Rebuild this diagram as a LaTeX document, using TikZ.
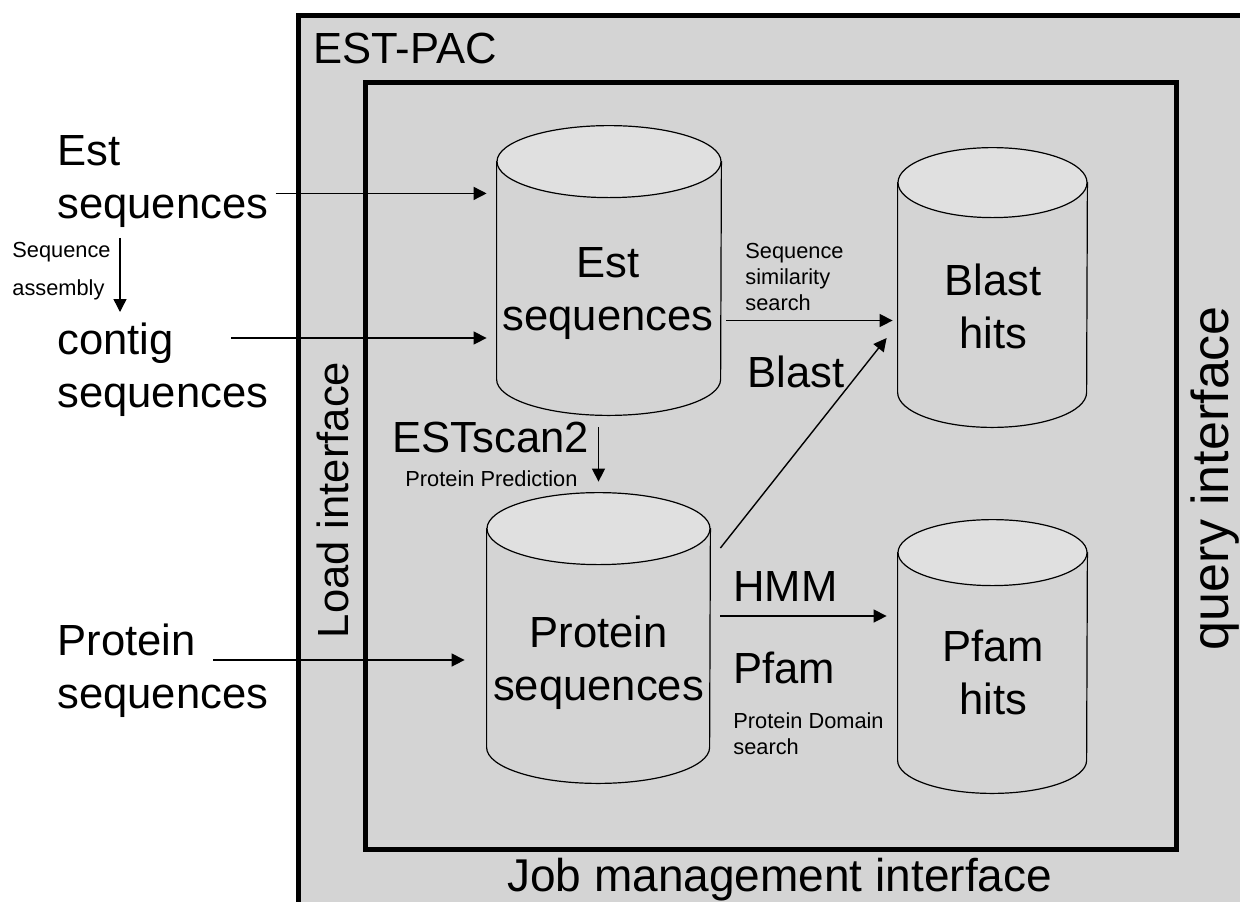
\documentclass[tikz,border=0pt]{standalone}
\usepackage{fontspec}
\setmainfont{Liberation Sans}
\usetikzlibrary{arrows.meta,calc}

\definecolor{boxgray}{RGB}{212,212,212}
\definecolor{capgray}{RGB}{224,224,224}

\tikzset{
  big/.style={font=\fontsize{21.8}{26.5}\selectfont, inner sep=0pt, align=left},
  small/.style={font=\fontsize{10.9}{13}\selectfont, inner sep=0pt, align=left},
  db/.style={rectangle, inner sep=0pt},
  flow/.style={-{Triangle[length=6.5pt,width=6.5pt]}, line width=0.7pt},
  frame/.style={draw, line width=2.5pt, fill=boxgray},
}

% cylinder drawn into a db node: name, x radius, y radius
\newcommand{\dbshape}[3]{%
  \draw[line width=0.6pt, fill=boxgray]
    ([shift={(0,#3)}]#1.north west) -- ([shift={(0,-#3)}]#1.south west)
    arc[start angle=180, end angle=0, x radius=#2, y radius=#3]
    -- ([shift={(0,#3)}]#1.north east) -- cycle;
  \draw[line width=0.6pt, fill=capgray] ([shift={(0,#3)}]#1.north) ellipse[x radius=#2, y radius=#3];
}

\begin{document}
\begin{tikzpicture}[x=0.5pt,y=-0.5pt]
  \clip (0,0) rectangle (1240,901);
  \fill[white] (0,0) rectangle (1240,901);
  % outer and inner frames
  \draw[frame] (298.5,15) rectangle (1280,940);
  \draw[frame] (365.5,82.5) rectangle (1176,849);

  % databases
  \node[db, minimum width=112pt, minimum height=144.5pt] (estdb) at (609,270.5) {};
  \node[db, minimum width=111.5pt, minimum height=145pt] (protdb) at (598.5,638) {};
  \node[db, minimum width=94.5pt, minimum height=139.5pt] (blastdb) at (992.5,287.5) {};
  \node[db, minimum width=94.5pt, minimum height=136.5pt] (pfamdb) at (992.5,656.5) {};
  \dbshape{estdb}{112}{36}
  \dbshape{protdb}{111.5}{36}
  \dbshape{blastdb}{94.5}{35}
  \dbshape{pfamdb}{94.5}{33}

  \node[big, align=center, anchor=north] (esttxt) at (608,247) {Est\\sequences};
  \node[big, align=center, anchor=north] (prottxt) at (598.5,615) {Protein\\sequences};
  \node[big, align=center, anchor=north] (blasttxt) at (993,263) {Blast\\hits};
  \node[big, align=center, anchor=north] (pfamtxt) at (993,630) {Pfam\\hits};

  % inputs on the left
  \node[big, anchor=north west] (estin) at (57,135) {Est\\sequences};
  \node[big, anchor=north west] (contigin) at (57,322) {contig\\sequences};
  \node[big, anchor=north west] (protin) at (57,623) {Protein\\sequences};
  \node[small, anchor=north west] (asmlbl) at (12,242) {Sequence\\[6pt]assembly};

  % interfaces
  \node[big, anchor=north west] (pac) at (313,33) {EST-PAC};
  \node[big, rotate=90] (loadif) at (333,500) {Load interface};
  \node[big, rotate=90, font=\fontsize{26}{30}\selectfont] (queryif) at (1215,478) {query interface};
  \node[big, anchor=north west, font=\fontsize{23}{27}\selectfont] (jobif) at (507,858) {Job management interface};

  % tool labels
  \node[big, anchor=north west] (estscan) at (392,422) {ESTscan2};
  \node[small, anchor=north west] (protpred) at (405,470) {Protein Prediction};
  \node[small, anchor=north west] (simlbl) at (745,243) {Sequence\\similarity\\search};
  \node[big, anchor=north west] (blastlbl) at (747,355) {Blast};
  \node[big, anchor=north west] (hmmlbl) at (733,571) {HMM};
  \node[big, anchor=north west] (pfamlbl) at (733,652) {Pfam};
  \node[small, anchor=north west] (domlbl) at (733,712) {Protein Domain\\search};

  % arrow starts
  \coordinate (estout) at ([shift={(7,12)}]estin.east);
  \coordinate (contigout) at ([shift={(174,16)}]contigin.north west);
  \coordinate (protout) at ([shift={(156,37)}]protin.north west);
  \coordinate (simout) at ([shift={(0,50)}]estdb.east);
  \coordinate (hmmout) at ([shift={(10,-22)}]protdb.east);

  % loading
  \draw[flow, shorten >=5pt] (estout) -- (estout -| estdb.west);
  \draw[flow, shorten >=5pt] (contigout) -- (contigout -| estdb.west);
  \draw[flow, shorten >=11pt] (protout) -- (protout -| protdb.west);
  \draw[flow, shorten <=5pt, shorten >=5pt] (120,0 |- estin.south) -- (120,0 |- contigin.north);

  % processing
  \draw[flow, shorten <=6pt, shorten >=5.5pt] (protdb.north |- estdb.south) -- (protdb.north);
  \draw[flow, shorten <=2.5pt, shorten >=2.5pt] (simout) -- (simout -| blastdb.west);
  \draw[flow] ([shift={(10,-90)}]protdb.east) -- ([shift={(-11,50.5)}]blastdb.west);
  \draw[flow, shorten >=5.5pt] (hmmout) -- (hmmout -| pfamdb.west);
\end{tikzpicture}
\end{document}
